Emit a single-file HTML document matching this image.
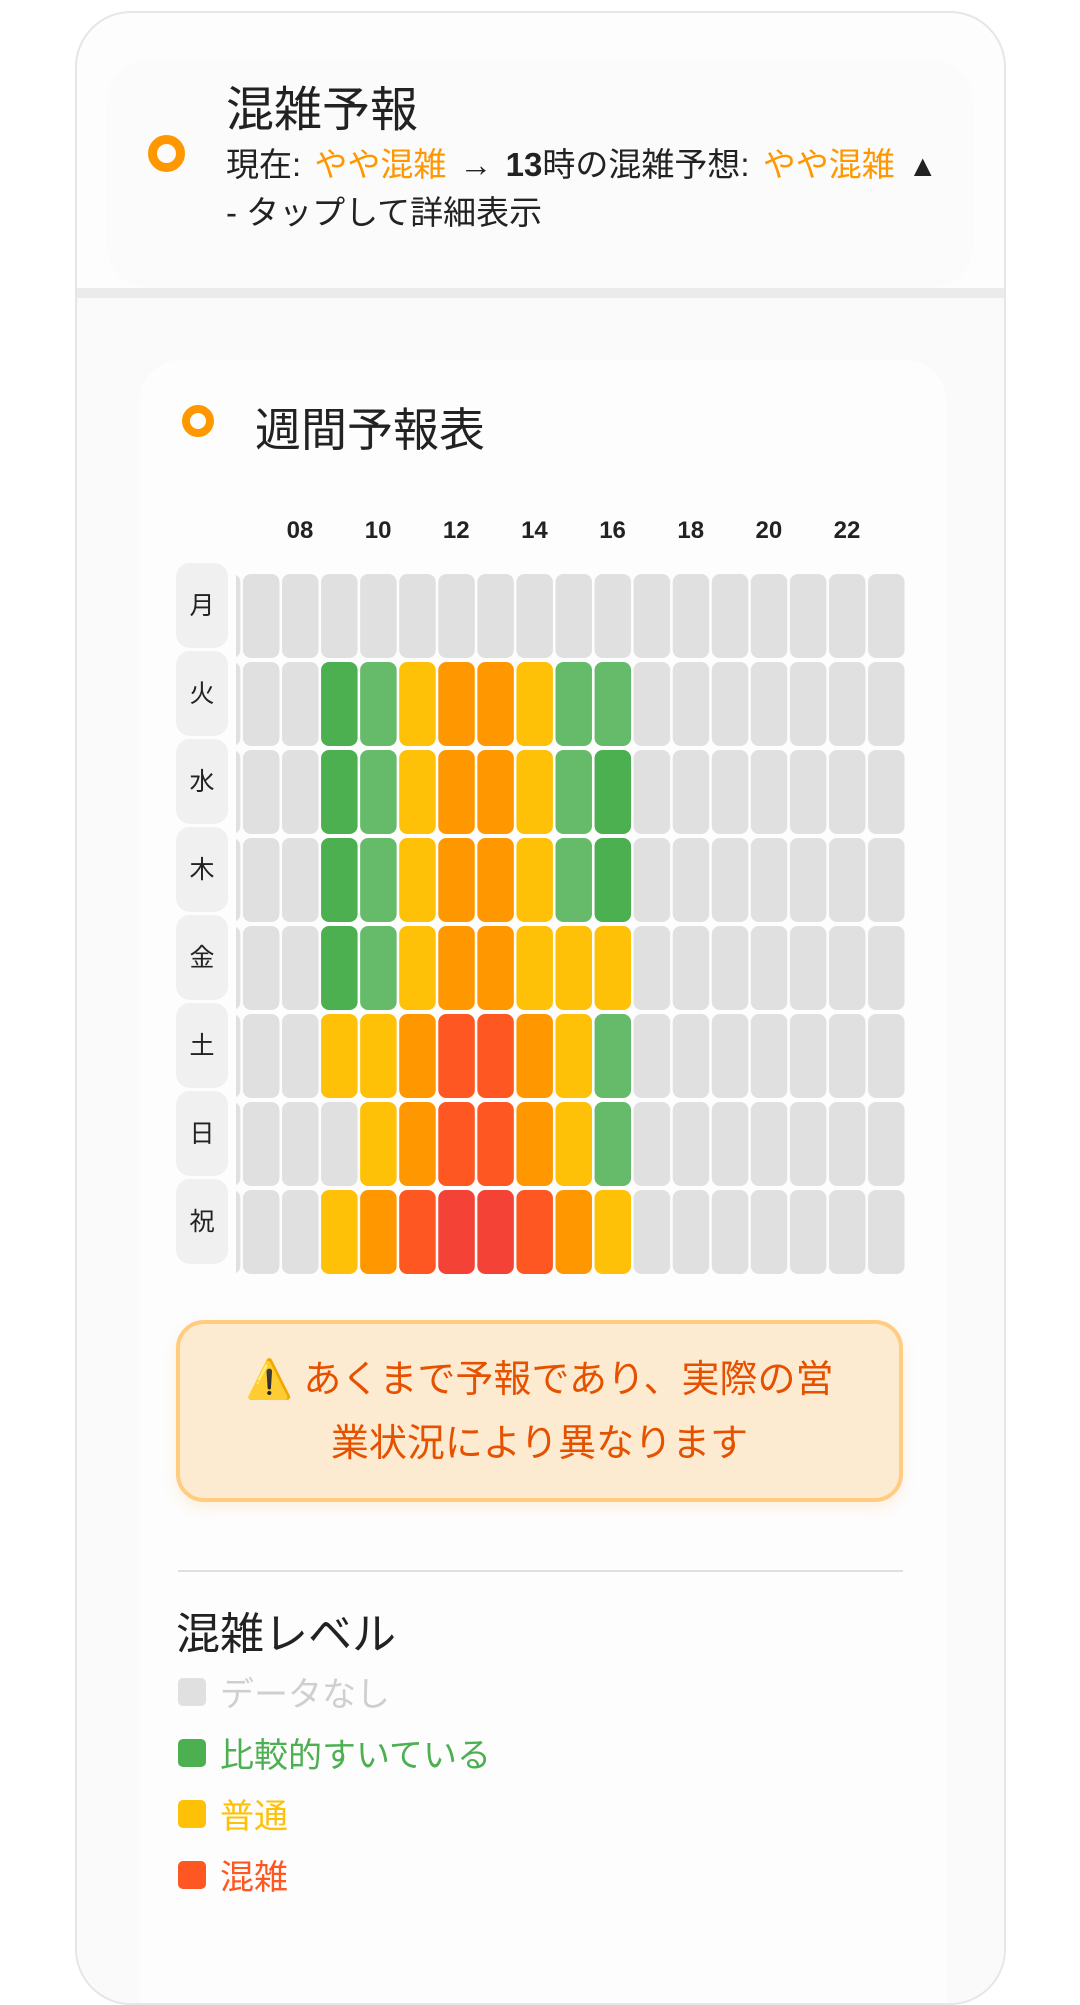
<!DOCTYPE html>
<html><head><meta charset="utf-8"><style>
html,body{margin:0;padding:0;background:#fff;width:1080px;height:1920px;overflow:hidden;font-family:"Liberation Sans","Noto Sans CJK JP",sans-serif;}
.abs{position:absolute;}
#card{left:75px;top:11px;width:927px;height:1990px;border:2px solid #e6e6e6;border-radius:56px;background:#fdfdfd;overflow:hidden;}
.ring{position:absolute;border-style:solid;border-color:#ff9800;border-radius:50%;box-sizing:border-box;}
</style></head><body>
<div id="card" class="abs">
  <div class="abs" style="left:30px;top:48px;width:866px;height:226px;background:#fbfbfb;border-radius:40px;"></div>
  <div class="abs" style="left:0;top:275px;width:930px;height:1800px;background:#fafafa;border-top:10px solid #ebebeb;"></div>
  <div class="abs" style="left:63px;top:347px;width:806px;height:1700px;background:#fdfdfd;border-radius:40px;"></div>
</div>
<div class="ring" style="left:148px;top:135px;width:37px;height:37px;border-width:9px;"></div>
<div class="abs" style="left:226px;top:70px;font-size:48px;color:#222;">混雑予報</div>
<div class="abs" style="left:226px;top:138px;font-size:33px;color:#222;white-space:nowrap;word-spacing:4px;">現在: <span style="color:#ff9800">やや混雑</span> <b>→ 13</b>時の混雑予想: <span style="color:#ff9800">やや混雑</span> <span style="font-size:30px">▲</span></div>
<div class="abs" style="left:226px;top:186px;font-size:33px;color:#222;">- タップして詳細表示</div>
<div class="ring" style="left:182px;top:405px;width:32px;height:32px;border-width:8px;"></div>
<div class="abs" style="left:255px;top:394px;font-size:46px;color:#222;">週間予報表</div>

<svg class="abs" style="left:0;top:0" width="1080" height="1320">
<defs><clipPath id="gc"><rect x="236" y="500" width="680" height="800"/></clipPath></defs>
<g id="labels"></g><g id="cells" clip-path="url(#gc)"></g><g id="hours" clip-path="url(#gc)"></g>
</svg>

<div class="abs" style="left:176px;top:1320px;width:727px;height:182px;box-sizing:border-box;background:#fdebd1;border:4px solid #ffcc80;border-radius:28px;box-shadow:0 6px 14px rgba(255,160,60,0.15);text-align:center;color:#e65100;font-size:38px;line-height:64px;padding-top:24px;">⚠️ あくまで予報であり、実際の営<br>業状況により異なります</div>
<div class="abs" style="left:178px;top:1570px;width:725px;height:2px;background:#e0e0e0;"></div>
<div class="abs" style="left:176px;top:1598px;font-size:44px;color:#222;">混雑レベル</div>
<div id="legend"></div>

<script>
const hours=[6,7,8,9,10,11,12,13,14,15,16,17,18,19,20,21,22,23];
const days=["月","火","水","木","金","土","日","祝"];
const levels=[
[0,0,0,0,0,0,0,0,0,0,0,0,0,0,0,0,0,0],
[0,0,0,1,2,3,4,4,3,2,2,0,0,0,0,0,0,0],
[0,0,0,1,2,3,4,4,3,2,1,0,0,0,0,0,0,0],
[0,0,0,1,2,3,4,4,3,2,1,0,0,0,0,0,0,0],
[0,0,0,1,2,3,4,4,3,3,3,0,0,0,0,0,0,0],
[0,0,0,3,3,4,5,5,4,3,2,0,0,0,0,0,0,0],
[0,0,0,0,3,4,5,5,4,3,2,0,0,0,0,0,0,0],
[0,0,0,3,4,5,6,6,5,4,3,0,0,0,0,0,0,0]];
const palette=["#e0e0e0","#4caf50","#66bb6a","#ffc107","#ff9800","#ff5722","#f44336"];
const legendLabels=["データなし","比較的すいている","普通","混雑"];
const legendColors=["#e0e0e0","#4caf50","#ffc107","#ff5722"];
const legendText=["#cfcfcf","#4caf50","#ffc107","#ff5722"];
const NS="http://www.w3.org/2000/svg";
const x=h=>282+(h-8)*39.07, y=i=>574+i*88;
const cells=document.getElementById('cells'),hl=document.getElementById('hours'),lb=document.getElementById('labels');
days.forEach((d,i)=>{
  const r=document.createElementNS(NS,'rect');
  r.setAttribute('x',176);r.setAttribute('y',y(i)-11);r.setAttribute('width',52);r.setAttribute('height',85);r.setAttribute('rx',14);r.setAttribute('fill','#f0f0f0');
  
  
  lb.appendChild(r);
  const t=document.createElementNS(NS,'text');
  t.setAttribute('x',202);t.setAttribute('y',y(i)+40);t.setAttribute('text-anchor','middle');t.setAttribute('font-size','25');t.setAttribute('fill','#222');
  t.setAttribute('font-family','"Liberation Sans","Noto Sans CJK JP",sans-serif');t.textContent=d;
  
  
  lb.appendChild(t);
  hours.forEach((h,j)=>{
    const c=document.createElementNS(NS,'rect');
    c.setAttribute('x',x(h));c.setAttribute('y',y(i));c.setAttribute('width',36.5);c.setAttribute('height',84);c.setAttribute('rx',8);
    c.setAttribute('fill',palette[levels[i][j]]);
    
    
    cells.appendChild(c);
  });
});
hours.filter(h=>h%2==0).forEach(h=>{
  const t=document.createElementNS(NS,'text');
  t.setAttribute('x',x(h)+18);t.setAttribute('y',538);t.setAttribute('text-anchor','middle');t.setAttribute('font-size','24');t.setAttribute('font-weight','bold');t.setAttribute('fill','#222');
  t.setAttribute('font-family','"Liberation Sans",sans-serif');t.textContent=String(h).padStart(2,'0');
  
  
  hl.appendChild(t);
});
const lg=document.getElementById('legend');
legendLabels.forEach((l,i)=>{
  const top=1678+i*61;
  const s=document.createElement('div');
  s.className='abs';s.style.cssText=`left:178px;top:${top}px;width:28px;height:28px;border-radius:5px;background:${legendColors[i]}`;
  
  
  lg.appendChild(s);
  const t=document.createElement('div');
  t.className='abs';t.style.cssText=`left:220px;top:${top-11}px;font-size:34px;color:${legendText[i]};white-space:nowrap`;t.textContent=l;
  
  
  lg.appendChild(t);
});
</script>
</body></html>
